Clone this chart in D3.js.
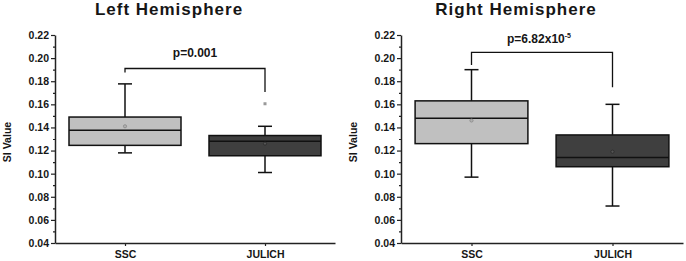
<!DOCTYPE html>
<html lang="en">
<head>
  <meta charset="UTF-8" />
  <script src="https://d3js.org/d3.v7.min.js"></script>
  <title>SI Value box plots</title>
  <style>
    body { margin: 0; background: #fff; }
    text { font-family: "Liberation Sans", Arial, sans-serif; font-weight: bold; fill: #161616; }
  </style>
</head>
<body>
  <svg width="686" height="261"></svg>

  <script>
    // Data
    const categories = ["SSC", "JULICH"];
    const panels = ["Left Hemisphere", "Right Hemisphere"];
    const yTicks = [0.04, 0.06, 0.08, 0.10, 0.12, 0.14, 0.16, 0.18, 0.20, 0.22];

    // [whiskerLow, q1, median, q3, whiskerHigh]
    const leftStats = [
      [0.118, 0.1245, 0.1375, 0.149, 0.1777],
      [0.101, 0.1155, 0.128, 0.133, 0.141]
    ];
    const rightStats = [
      [0.097, 0.126, 0.148, 0.163, 0.190],
      [0.072, 0.106, 0.114, 0.1335, 0.160]
    ];
    const leftMeans = [0.141, 0.126];
    const rightMeans = [0.146, 0.119];
    const leftOutliers = [[], [0.1605]];
    const rightOutliers = [[], []];

    // bracket: [barY, leftLegEnd, rightLegEnd]
    const leftBracket = [0.191, 0.1875, 0.1707];
    const rightBracket = [0.205, 0.194, 0.1748];
    const pLabels = ["p=0.001", "p=6.82x10"];
    const pSup = ["", "-5"];

    const boxColors = ["#c0c0c0", "#3f3f3f"];

    const svg = d3.select("svg");

    const y = d3.scaleLinear().domain([0.04, 0.22]).range([243, 35]);

    const panelDefs = [
      { title: panels[0], x0: 55, x1: 335, stats: leftStats, means: leftMeans, outliers: leftOutliers, bracket: leftBracket, titleX: 169, pX: 195, pY: 57 },
      { title: panels[1], x0: 401, x1: 683, stats: rightStats, means: rightMeans, outliers: rightOutliers, bracket: rightBracket, titleX: 516, pX: 539, pY: 43 }
    ];

    panelDefs.forEach((p, pi) => {
      const g = svg.append("g");

      const x = d3.scalePoint().domain(categories).range([p.x0, p.x1]).padding(0.5);
      const boxW = x.step() * 0.8;
      const capW = 14;

      // title
      g.append("text")
        .attr("x", p.titleX)
        .attr("y", 15)
        .attr("text-anchor", "middle")
        .attr("font-size", 17)
        .attr("letter-spacing", 1)
        .text(p.title);

      // y label
      g.append("text")
        .attr("transform", `translate(${p.x0 - 44},${142}) rotate(-90)`)
        .attr("text-anchor", "middle")
        .attr("font-size", 10.5)
        .text("SI Value");

      // minor ticks
      g.append("g")
        .attr("transform", `translate(${p.x0},0)`)
        .call(d3.axisLeft(y).tickValues(d3.range(0.05, 0.22, 0.02)).tickSize(2).tickSizeOuter(0).tickFormat(""))
        .call(a => a.select(".domain").remove())
        .call(a => a.selectAll("line").attr("stroke", "#222").attr("stroke-width", 1.2));

      // y axis
      g.append("g")
        .attr("transform", `translate(${p.x0},0)`)
        .call(d3.axisLeft(y).tickValues(yTicks).tickSize(4).tickSizeOuter(0).tickPadding(2).tickFormat(d3.format(".2f")))
        .call(a => a.select(".domain").attr("stroke", "#222").attr("stroke-width", 1.5))
        .call(a => a.selectAll("line").attr("stroke", "#222").attr("stroke-width", 1.2))
        .call(a => a.selectAll("text").attr("font-size", 10.5).attr("font-family", null).attr("fill", "#161616"));

      // x axis
      g.append("g")
        .attr("transform", `translate(0,${y(0.04)})`)
        .call(d3.axisBottom(x).tickSize(3).tickSizeOuter(0).tickPadding(5))
        .call(a => a.select(".domain").attr("stroke", "#222").attr("stroke-width", 1.5))
        .call(a => a.selectAll("line").attr("stroke", "#222").attr("stroke-width", 1.2))
        .call(a => a.selectAll("text").attr("font-size", 10.5).attr("font-family", null).attr("fill", "#161616"));

      // boxes
      p.stats.forEach((s, i) => {
        const cx = x(categories[i]);
        const [lo, q1, med, q3, hi] = s;
        const bg = g.append("g");

        bg.append("line")
          .attr("x1", cx).attr("x2", cx)
          .attr("y1", y(hi)).attr("y2", y(lo))
          .attr("stroke", "#111").attr("stroke-width", 1.5);
        [lo, hi].forEach(v => {
          bg.append("line")
            .attr("x1", cx - capW / 2).attr("x2", cx + capW / 2)
            .attr("y1", y(v)).attr("y2", y(v))
            .attr("stroke", "#111").attr("stroke-width", 1.5);
        });

        bg.append("rect")
          .attr("x", cx - boxW / 2)
          .attr("y", y(q3))
          .attr("width", boxW)
          .attr("height", y(q1) - y(q3))
          .attr("fill", boxColors[i])
          .attr("stroke", "#111")
          .attr("stroke-width", 1.5);

        bg.append("line")
          .attr("x1", cx - boxW / 2).attr("x2", cx + boxW / 2)
          .attr("y1", y(med)).attr("y2", y(med))
          .attr("stroke", "#111").attr("stroke-width", 1.5);

        bg.append("circle")
          .attr("cx", cx).attr("cy", y(p.means[i]))
          .attr("r", 1.6)
          .attr("fill", i === 0 ? "#b0b0b0" : "#555")
          .attr("stroke", i === 0 ? "#888" : "#2a2a2a")
          .attr("stroke-width", 0.8);

        p.outliers[i].forEach(v => {
          bg.append("rect")
            .attr("x", cx - 1.5).attr("y", y(v) - 1.5)
            .attr("width", 3).attr("height", 3)
            .attr("fill", "#999");
        });
      });

      // significance bracket
      const [by, l1, l2] = p.bracket;
      const xa = x(categories[0]), xb = x(categories[1]);
      g.append("path")
        .attr("d", `M${xa},${y(l1)}V${y(by)}H${xb}V${y(l2)}`)
        .attr("fill", "none")
        .attr("stroke", "#111")
        .attr("stroke-width", 1.3);

      const pt = g.append("text")
        .attr("x", p.pX)
        .attr("y", p.pY)
        .attr("text-anchor", "middle")
        .attr("font-size", 12)
        .text(pLabels[pi]);
      if (pSup[pi]) {
        pt.append("tspan")
          .attr("font-size", 7)
          .attr("dy", -5)
          .text(pSup[pi]);
      }
    });
  </script>
</body>
</html>
